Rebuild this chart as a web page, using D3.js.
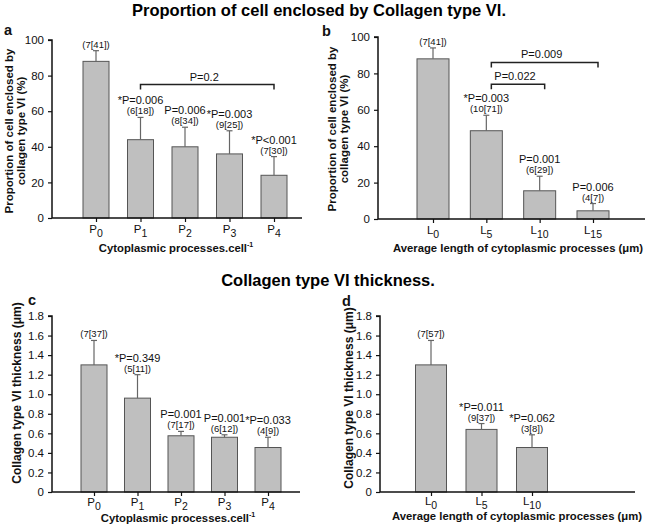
<!DOCTYPE html>
<html><head><meta charset="utf-8">
<script src="https://cdn.jsdelivr.net/npm/d3@7"></script>
<style>
html,body{margin:0;padding:0;background:#fff;}
svg{display:block;font-family:"Liberation Sans",Arial,Helvetica,sans-serif;}
</style></head>
<body>
<svg id="chart" width="649" height="527"></svg>
<script>
// ---------------- DATA ----------------
const procCats = ["P0", "P1", "P2", "P3", "P4"];
const lenCatsB = ["L0", "L5", "L10", "L15"];
const lenCatsD = ["L0", "L5", "L10"];

const enclosedA = [88, 44, 40, 36, 24];
const enclosedAErr = [6, 12.5, 11, 13, 10.5];
const pLabelsA = ["", "*P=0.006", "P=0.006", "*P=0.003", "*P<0.001"];
const nLabelsA = ["(7[41])", "(6[18])", "(8[34])", "(9[25])", "(7[30])"];

const enclosedB = [88, 48.5, 15.5, 4.5];
const enclosedBErr = [6, 8.5, 8, 4];
const pLabelsB = ["", "*P=0.003", "P=0.001", "P=0.006"];
const nLabelsB = ["(7[41])", "(10[71])", "(6[29])", "(4[7])"];

const thickC = [1.3, 0.96, 0.575, 0.56, 0.455];
const thickCErr = [0.25, 0.24, 0.045, 0.025, 0.105];
const pLabelsC = ["", "*P=0.349", "P=0.001", "P=0.001", "*P=0.033"];
const nLabelsC = ["(7[37])", "(5[11])", "(7[17])", "(6[12])", "(4[9])"];

const thickD = [1.3, 0.64, 0.455];
const thickDErr = [0.25, 0.06, 0.13];
const pLabelsD = ["", "*P=0.011", "*P=0.062"];
const nLabelsD = ["(7[57])", "(9[37])", "(3[8])"];

const ticksEnclosed = [0, 20, 40, 60, 80, 100];
const ticksThick = [0, 0.2, 0.4, 0.6, 0.8, 1.0, 1.2, 1.4, 1.6, 1.8];

const bracketsA = [{from: "P1", to: "P4", y: 75, label: "P=0.2"}];
const bracketsB = [
  {from: "L5", to: "L10", y: 74, label: "P=0.022"},
  {from: "L5", to: "L15", y: 86, label: "P=0.009"}
];

const titleTop = "Proportion of cell enclosed by Collagen type VI.";
const titleBottom = "Collagen type VI thickness.";
const yTitleEnclosed = ["Proportion of cell enclosed by", "collagen type VI (%)"];
const yTitleThick = "Collagen type VI thickness (\u03bcm)";
const xTitleProc = "Cytoplasmic processes.cell";
const xTitleLen = "Average length of cytoplasmic processes (\u03bcm)";

// ---------------- DRAW ----------------
const svg = d3.select("#chart");
const FONT = '"Liberation Sans",Arial,Helvetica,sans-serif';

svg.append("text").attr("x", 319).attr("y", 16).attr("text-anchor", "middle")
  .attr("font-size", 16.5).attr("font-weight", "bold").text(titleTop);
svg.append("text").attr("x", 328).attr("y", 286).attr("text-anchor", "middle")
  .attr("font-size", 16.5).attr("font-weight", "bold").text(titleBottom);

function drawPanel(o) {
  const g = svg.append("g");
  const y = d3.scaleLinear().domain([0, o.yMax]).range([o.y0, o.yTop]);
  const x = d3.scalePoint().domain(o.cats).range(o.catRange);

  // bars
  g.selectAll("rect.bar").data(o.cats).join("rect")
    .attr("x", d => x(d) - o.barW / 2)
    .attr("y", (d, i) => y(o.vals[i]))
    .attr("width", o.barW)
    .attr("height", (d, i) => y(0) - y(o.vals[i]))
    .attr("fill", "#bfbfbf").attr("stroke", "#555").attr("stroke-width", 1);

  // error bars (upper only)
  o.cats.forEach((c, i) => {
    const cx = x(c), top = y(o.vals[i] + o.errs[i]);
    g.append("line").attr("x1", cx).attr("x2", cx).attr("y1", y(o.vals[i])).attr("y2", top)
      .attr("stroke", "#666").attr("stroke-width", 1.2);
    g.append("line").attr("x1", cx - 3).attr("x2", cx + 3).attr("y1", top).attr("y2", top)
      .attr("stroke", "#666").attr("stroke-width", 1.2);
    const nb = top - 3;
    g.append("text").attr("x", cx).attr("y", nb).attr("text-anchor", "middle")
      .attr("font-size", 9.5).attr("fill", "#111").text(o.nLabels[i]);
    if (o.pLabels[i]) {
      g.append("text").attr("x", cx).attr("y", nb - 10).attr("text-anchor", "middle")
        .attr("font-size", 11).attr("fill", "#111").text(o.pLabels[i]);
    }
  });

  // y axis
  const yAxis = d3.axisLeft(y).tickValues(o.ticks).tickSize(4).tickPadding(4)
    .tickFormat(o.fmt);
  const ya = g.append("g").attr("transform", `translate(${o.x0},0)`).call(yAxis);
  ya.select(".domain").attr("stroke", "#111").attr("stroke-width", 1.5)
    .attr("d", `M-4,${o.yTop}H0V${o.y0}`);
  ya.selectAll(".tick line").attr("stroke", "#111").attr("stroke-width", 1.2);
  ya.selectAll(".tick text").attr("font-size", 11.5).attr("font-family", FONT).attr("fill", "#111");

  // x axis
  const xa = g.append("g").attr("transform", `translate(0,${o.y0})`)
    .call(d3.axisBottom(x).tickSize(4).tickFormat(""));
  xa.select(".domain").attr("stroke", "#111").attr("stroke-width", 1.5)
    .attr("d", `M${o.x0},0H${o.xEnd}`);
  xa.selectAll(".tick line").attr("stroke", "#111").attr("stroke-width", 1.2);

  // x tick labels with subscripts
  o.cats.forEach(c => {
    const t = g.append("text").attr("x", x(c)).attr("y", o.y0 + o.tickLabDy)
      .attr("text-anchor", "middle").attr("font-size", 11.5).attr("fill", "#111");
    t.append("tspan").text(c[0]);
    t.append("tspan").attr("dy", 4).attr("font-size", 10.5).text(c.slice(1));
  });

  // brackets
  (o.brackets || []).forEach(b => {
    const x1 = x(b.from) + (o.bracketOff ? o.bracketOff[0] : 0);
    const x2 = x(b.to) + (o.bracketOff ? o.bracketOff[1] : 0);
    const by = y(b.y);
    g.append("path").attr("d", `M${x1},${by + 5}V${by}H${x2}V${by + 5}`)
      .attr("fill", "none").attr("stroke", "#222").attr("stroke-width", 1.5);
    g.append("text").attr("x", (x1 + x2) / 2 - 3).attr("y", by - 4).attr("text-anchor", "middle")
      .attr("font-size", 11).attr("fill", "#111").text(b.label);
  });

  // y title
  const yt = g.append("text").attr("transform", `translate(${o.yTitleX},${o.yTitleY}) rotate(-90)`)
    .attr("text-anchor", "middle").attr("font-size", o.yTitleSize).attr("font-weight", "bold").attr("fill", "#111");
  if (Array.isArray(o.yTitle)) {
    o.yTitle.forEach((l, i) => yt.append("tspan").attr("x", 0).attr("dy", i ? 12 : 0).text(l));
  } else yt.text(o.yTitle);

  // x title
  const xt = g.append("text").attr("x", o.xTitleX).attr("y", o.xTitleY).attr("text-anchor", "middle")
    .attr("font-size", 11.3).attr("font-weight", "bold").attr("fill", "#111");
  xt.append("tspan").text(o.xTitle);
  if (o.sup) xt.append("tspan").attr("dy", -5).attr("font-size", 7).text(o.sup);

  // panel letter
  svg.append("text").attr("x", o.letterX).attr("y", o.letterY).attr("font-size", 14.5)
    .attr("font-weight", "bold").attr("fill", "#111").text(o.letter);
}

const fmtPct = d => d;
const fmtThick = d => d === 0 ? "0" : d.toFixed(1);

drawPanel({cats: procCats, vals: enclosedA, errs: enclosedAErr, pLabels: pLabelsA, nLabels: nLabelsA,
  yMax: 100, ticks: ticksEnclosed, fmt: fmtPct, x0: 52, xEnd: 302, y0: 218, yTop: 40,
  catRange: [96, 274], barW: 26, brackets: bracketsA, bracketOff: [0, 0], tickLabDy: 15,
  yTitle: yTitleEnclosed, yTitleSize: 11.5, yTitleX: 13, yTitleY: 131, xTitle: xTitleProc, sup: "-1",
  xTitleX: 176, xTitleY: 252, letter: "a", letterX: 4, letterY: 35});

drawPanel({cats: lenCatsB, vals: enclosedB, errs: enclosedBErr, pLabels: pLabelsB, nLabels: nLabelsB,
  yMax: 100, ticks: ticksEnclosed, fmt: fmtPct, x0: 378, xEnd: 645, y0: 219, yTop: 37,
  catRange: [433, 593], barW: 32, brackets: bracketsB, bracketOff: [5, 5], tickLabDy: 15,
  yTitle: yTitleEnclosed, yTitleSize: 11.5, yTitleX: 336, yTitleY: 129, xTitle: xTitleLen,
  xTitleX: 518, xTitleY: 252, letter: "b", letterX: 322, letterY: 36});

drawPanel({cats: procCats, vals: thickC, errs: thickCErr, pLabels: pLabelsC, nLabels: nLabelsC,
  yMax: 1.8, ticks: ticksThick, fmt: fmtThick, x0: 52, xEnd: 300, y0: 492, yTop: 316,
  catRange: [94, 268], barW: 26, tickLabDy: 14,
  yTitle: yTitleThick, yTitleSize: 12, yTitleX: 21, yTitleY: 393, xTitle: xTitleProc, sup: "-1",
  xTitleX: 178, xTitleY: 522, letter: "c", letterX: 28, letterY: 305});

drawPanel({cats: lenCatsD, vals: thickD, errs: thickDErr, pLabels: pLabelsD, nLabels: nLabelsD,
  yMax: 1.8, ticks: ticksThick, fmt: fmtThick, x0: 380, xEnd: 635, y0: 492, yTop: 316,
  catRange: [431, 532], barW: 31, tickLabDy: 13,
  yTitle: yTitleThick, yTitleSize: 12, yTitleX: 353, yTitleY: 398, xTitle: xTitleLen,
  xTitleX: 517, xTitleY: 520, letter: "d", letterX: 342, letterY: 306});
</script>
</body></html>
